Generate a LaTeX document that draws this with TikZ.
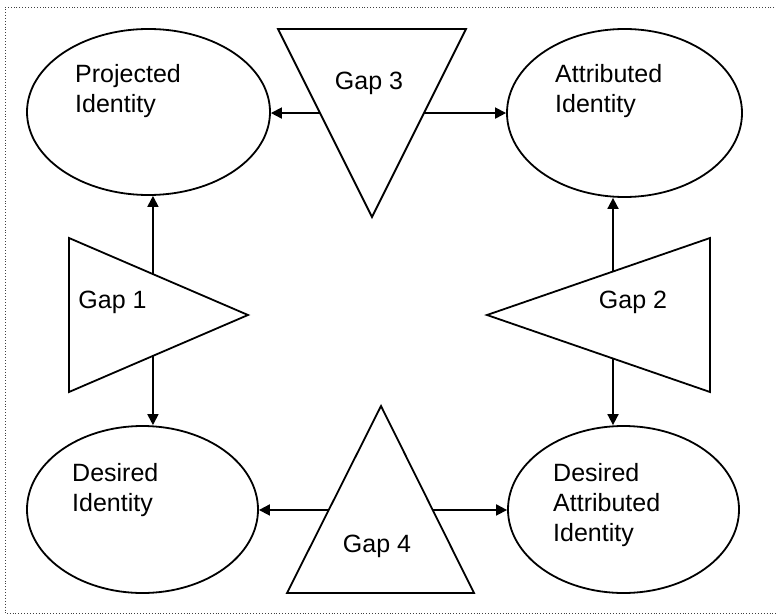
\documentclass[tikz,border=0pt]{standalone}
\usepackage{fontspec}
\setmainfont{Liberation Sans}
\usetikzlibrary{shapes.geometric,arrows.meta,calc}

\begin{document}
\begin{tikzpicture}[x=1pt,y=-1pt,
  ident/.style={ellipse, draw, line width=1.8pt, inner sep=0pt},
  gapshape/.style={draw, line width=1.8pt, line join=miter},
  lbl/.style={font=\fontsize{25}{30}\selectfont, align=left, inner sep=0pt, anchor=base west},
  gaplbl/.style={font=\fontsize{25}{30}\selectfont, inner sep=0pt, anchor=base},
  link/.style={line width=1.8pt, -{Triangle[length=11pt,width=11pt]}},
  frame/.style={dotted, line width=0.9pt, black!75}]

\useasboundingbox (0,0) rectangle (776,615);

% dotted frame (right side runs off the page)
\draw[frame] (780,7) -| (5,613.5) -- (780,613.5);

% identities
\node[ident, minimum width=243pt, minimum height=166pt] (proj)  at (148.5,112) {};
\node[ident, minimum width=235pt, minimum height=168pt] (attr)  at (624.5,113) {};
\node[ident, minimum width=231pt, minimum height=167pt] (des)   at (142.5,509.5) {};
\node[ident, minimum width=231pt, minimum height=167pt] (dattr) at (623.5,509.5) {};

% labels: the base anchor sits on the last line
\node[lbl] (projtxt)  at (75,113)  {Projected\\Identity};
\node[lbl] (attrtxt)  at (555,113) {Attributed\\Identity};
\node[lbl] (destxt)   at (72,511)  {Desired\\Identity};
\node[lbl] (dattrtxt) at (553,541) {Desired\\Attributed\\Identity};

% gap triangles
\coordinate (g1a) at (69,238);  \coordinate (g1b) at (69,392);  \coordinate (g1c) at (248,315);
\coordinate (g2a) at (710,238); \coordinate (g2b) at (710,392); \coordinate (g2c) at (487,315);
\coordinate (g3a) at (278,29);  \coordinate (g3b) at (466,29);  \coordinate (g3c) at (372,217);
\coordinate (g4a) at (381,406); \coordinate (g4b) at (287,593); \coordinate (g4c) at (474,593);

\draw[gapshape] (g1a) -- (g1b) -- (g1c) -- cycle;
\draw[gapshape] (g2a) -- (g2b) -- (g2c) -- cycle;
\draw[gapshape] (g3a) -- (g3b) -- (g3c) -- cycle;
\draw[gapshape] (g4a) -- (g4b) -- (g4c) -- cycle;

\node[gaplbl] (gap1) at (112.5,308) {Gap 1};
\node[gaplbl] (gap2) at (633,308)   {Gap 2};
\node[gaplbl] (gap3) at (369,90)    {Gap 3};
\node[gaplbl] (gap4) at (377,552)   {Gap 4};

% points where the arrows leave the triangles
\coordinate (g1up) at ($(g1a)!0.469!(g1c)$);
\coordinate (g1dn) at ($(g1b)!0.469!(g1c)$);
\coordinate (g2up) at ($(g2a)!0.435!(g2c)$);
\coordinate (g2dn) at ($(g2b)!0.435!(g2c)$);
\coordinate (g3l)  at ($(g3a)!0.447!(g3c)$);
\coordinate (g3r)  at ($(g3b)!0.447!(g3c)$);
\coordinate (g4l)  at ($(g4a)!0.556!(g4b)$);
\coordinate (g4r)  at ($(g4a)!0.556!(g4c)$);

% connectors
\draw[link] (g1up) -- (g1up |- proj.south);
\draw[link] (g1dn) -- (g1dn |- des.north);
\draw[link] (g2up) -- (g2up |- attr.south);
\draw[link] (g2dn) -- (g2dn |- dattr.north);
\draw[link] (g3l) -- (g3l -| proj.east);
\draw[link] (g3r) -- (g3r -| attr.west);
\draw[link] (g4l) -- (g4l -| des.east);
\draw[link] (g4r) -- (g4r -| dattr.west);
\end{tikzpicture}
\end{document}
